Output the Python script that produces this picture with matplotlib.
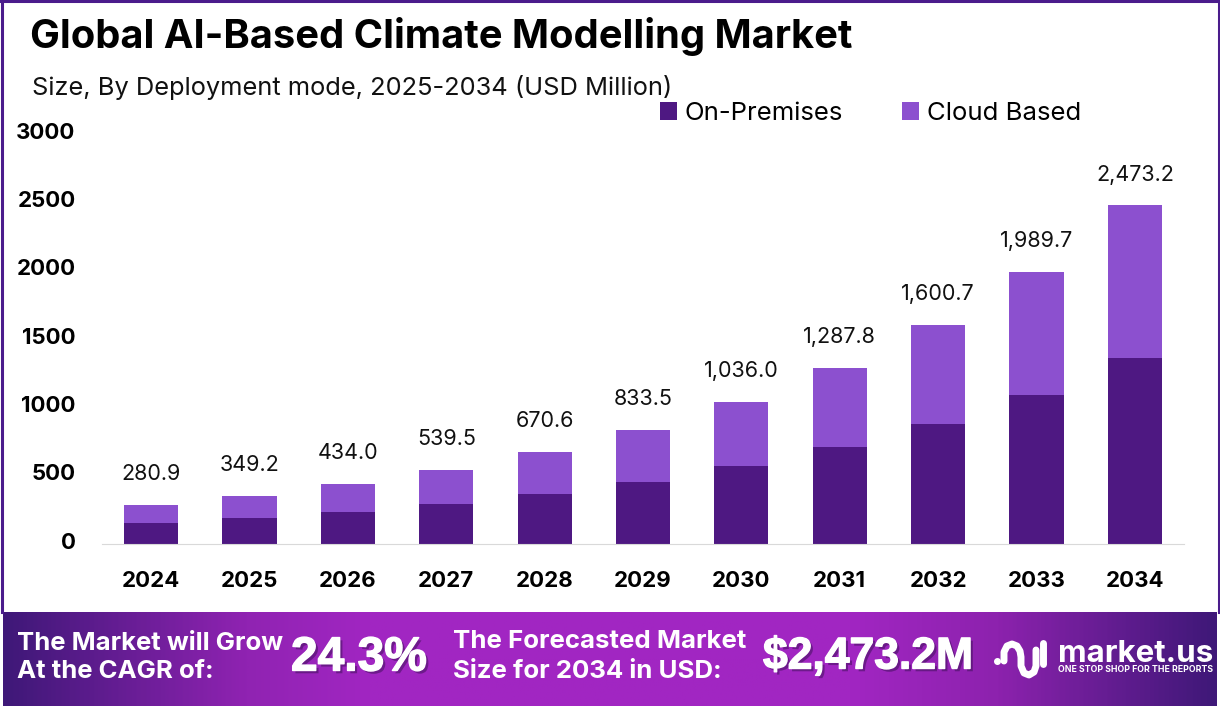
import numpy as np
from matplotlib import pyplot as plt
from matplotlib import patheffects as pe
from matplotlib.colors import LinearSegmentedColormap
from matplotlib.transforms import ScaledTranslation

# 数据
years = ["2024", "2025", "2026", "2027", "2028", "2029", "2030", "2031", "2032", "2033", "2034"]
on_premises = [150, 187, 230, 289, 362, 450, 567, 706, 874, 1087, 1357]
cloud_based = [130.9, 162.2, 204.0, 250.5, 308.6, 383.5, 469.0, 581.8, 726.7, 902.7, 1116.2]
totals = ["280.9", "349.2", "434.0", "539.5", "670.6", "833.5", "1,036.0", "1,287.8", "1,600.7", "1,989.7", "2,473.2"]
y_ticks = [0, 500, 1000, 1500, 2000, 2500, 3000]

W, H = 1220, 706
DARK = "#4E1882"
LIGHT = "#8C50CF"
FONT = "Inter"

plt.rcParams['font.family'] = [FONT, 'DejaVu Sans']

fig = plt.figure(figsize=(W / 100, H / 100), dpi=100, facecolor="white")

# 柱状图，位置按像素换算
ax = fig.add_axes([102 / W, 1 - 543.5 / H, 1082 / W, 410 / H])
bars1 = ax.bar(years, on_premises, width=0.55, color=DARK, label="On-Premises")
bars2 = ax.bar(years, cloud_based, width=0.55, bottom=on_premises, color=LIGHT, label="Cloud Based")
ax.set_xlim(-0.5, 10.5)
ax.set_ylim(0, 3000)
ax.set_yticks(y_ticks)
ax.tick_params(axis="both", length=0, labelsize=16, colors="black")
ax.tick_params(axis="x", pad=20)
ax.tick_params(axis="y", pad=19)
for lab in ax.get_xticklabels() + ax.get_yticklabels():
    lab.set_fontweight("bold")
for lab in ax.get_yticklabels():
    lab.set_transform(lab.get_transform() + ScaledTranslation(0, 2 / 72, fig.dpi_scale_trans))
for side in ["top", "right", "left"]:
    ax.spines[side].set_visible(False)
ax.spines["bottom"].set_color("#D9D9D9")

# 柱顶数值
for i, txt in enumerate(totals):
    ax.annotate(txt, (i, on_premises[i] + cloud_based[i]), xytext=(0, 15), textcoords="offset points",
                ha="center", va="bottom", fontsize=15.5, color="#111111")

ax.legend(loc="upper left", bbox_to_anchor=(660 / W, 1 - 102 / H), bbox_transform=fig.transFigure,
          ncol=2, frameon=False, fontsize=18.5, handlelength=0.66, handleheight=0.66,
          handletextpad=0.31, columnspacing=2.3, borderpad=0, borderaxespad=0)

# 覆盖层：标题、边框、底部色带，坐标就是像素
ov = fig.add_axes([0, 0, 1, 1], facecolor="none")
ov.set_xlim(0, W)
ov.set_ylim(H, 0)
ov.axis("off")

ov.text(30, 36, "Global AI-Based Climate Modelling Market", fontsize=28.7, fontweight="bold",
        color="black", va="center", ha="left")
ov.text(32, 87, "Size, By Deployment mode, 2025-2034 (USD Million)", fontsize=18.3,
        color="#111111", va="center", ha="left")

# 边框
ov.plot([1.5, 1.5], [0, 612], color="#4B1C8C", lw=2.2)
ov.plot([1218.5, 1218.5], [0, 612], color="#4B1C8C", lw=2.2)
ov.plot([0, W], [1, 1], color="#4B1C8C", lw=2.2)

# 渐变色带
cmap = LinearSegmentedColormap.from_list("band", [(0, "#3F1878"), (0.2, "#9023B2"), (0.3, "#A126C2"),
                                                  (0.7, "#A126C2"), (0.82, "#8D22AE"), (1, "#3F1878")])
grad = np.linspace(0, 1, 600).reshape(1, -1)
ov.imshow(grad, cmap=cmap, extent=[3, W - 3, 706, 612], aspect="auto", zorder=1)
ov.set_xlim(0, W)
ov.set_ylim(H, 0)

shadow = [pe.withSimplePatchShadow(offset=(2, -2), shadow_rgbFace="#3A0F55", alpha=0.5),
          pe.withStroke(linewidth=1, foreground="white")]
ov.text(17, 643, "The Market will Grow", fontsize=18.5, fontweight="bold", color="white", va="center", zorder=3)
ov.text(17, 672, "At the CAGR of:", fontsize=18.5, fontweight="bold", color="white", va="center", zorder=3)
ov.text(453, 641, "The Forecasted Market", fontsize=18.6, fontweight="bold", color="white", va="center", zorder=3)
ov.text(453, 671, "Size for 2034 in USD:", fontsize=18.6, fontweight="bold", color="white", va="center", zorder=3)
ov.text(291, 658, "24.3%", fontsize=34.5, fontweight="bold", family="Liberation Sans", color="white",
        va="center", zorder=3, path_effects=shadow)
ov.text(763, 657, "$2,473.2M", fontsize=32, fontweight="bold", family="Liberation Sans", color="white",
        va="center", zorder=3, path_effects=shadow)

# 标志
logo_x = [1004, 1004, 1007, 1012, 1017, 1020, 1021, 1021, 1024, 1029, 1034, 1036, 1036]
logo_y = [661, 652, 646, 644, 646, 651, 657, 666, 673, 675, 672, 666, 650]
ov.plot(logo_x, logo_y, color="white", lw=5, solid_capstyle="round", zorder=3)
ov.plot([1043, 1043], [643, 664], color="white", lw=5, solid_capstyle="round", zorder=3)
ov.plot([997], [661], "o", color="white", ms=4, zorder=3)
ov.text(1058, 654, "market.us", fontsize=22.5, fontweight="bold", color="white", va="center", zorder=3)
ov.text(1058, 670, "ONE STOP SHOP FOR THE REPORTS", fontsize=6.3, fontweight="bold", color="white", va="center", zorder=3)

fig.savefig("out.png", dpi=100)
